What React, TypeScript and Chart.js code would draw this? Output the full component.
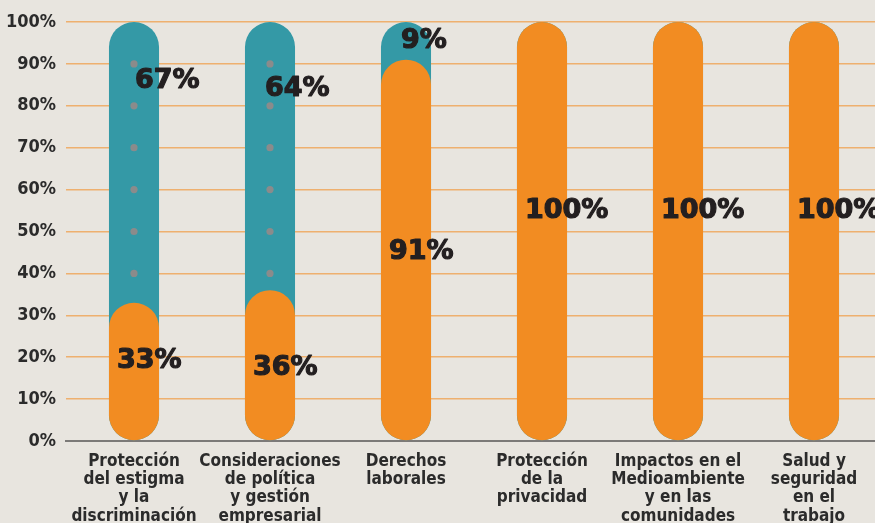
import { useEffect, useRef } from "react";
import { Chart, registerables } from "chart.js";

Chart.register(...registerables);

const categories: string[][] = [
  ["Protección", "del estigma", "y la", "discriminación"],
  ["Consideraciones", "de política", "y gestión", "empresarial"],
  ["Derechos", "laborales"],
  ["Protección", "de la", "privacidad"],
  ["Impactos en el", "Medioambiente", "y en las", "comunidades"],
  ["Salud y", "seguridad", "en el", "trabajo"],
];
const orangeValues = [33, 36, 91, 100, 100, 100];
const tealValues = [67, 64, 9, 0, 0, 0];
const yTickValues = [0, 10, 20, 30, 40, 50, 60, 70, 80, 90, 100];
const dotLevels = [10, 20, 30, 40, 50, 60, 70, 80, 90];

const W = 890;
const H = 540;
const BG = "#e8e5df";
const TEAL = "#3499a6";
const ORANGE = "#f28c22";

// label placement (styling, in axis units / pixels)
const orangeLabelLevel = [19, 17.5, 45, 55, 55, 55];
const tealLabelLevel = [86, 84, 95.5, 0, 0, 0];
const tealLabelDx = [1, -5, -5, 0, 0, 0];

const bgPlugin = {
  id: "bg",
  beforeDraw(chart: any) {
    const { ctx } = chart;
    ctx.save();
    ctx.fillStyle = BG;
    ctx.fillRect(0, 0, chart.width, chart.height);
    ctx.restore();
  },
};

const labelPlugin = {
  id: "pillLabels",
  afterDatasetsDraw(chart: any) {
    const { ctx } = chart;
    const y = chart.scales.y;
    const orangeMeta = chart.getDatasetMeta(chart.data.datasets.length - 1);
    ctx.save();
    ctx.font = "bold 27px 'DejaVu Sans'";
    ctx.fillStyle = "#231f20";
    ctx.strokeStyle = "#231f20";
    ctx.lineWidth = 1.2;
    ctx.lineJoin = "round";
    ctx.textAlign = "left";
    ctx.textBaseline = "middle";
    const draw = (t: string, x: number, yy: number) => {
      ctx.strokeText(t, x, yy);
      ctx.fillText(t, x, yy);
    };
    orangeValues.forEach((v, i) => {
      const bar = orangeMeta.data[i];
      draw(v + "%", bar.x - 17, y.getPixelForValue(orangeLabelLevel[i]));
    });
    tealValues.forEach((v, i) => {
      if (v <= 0) return;
      const bar = orangeMeta.data[i];
      draw(v + "%", bar.x + tealLabelDx[i], y.getPixelForValue(tealLabelLevel[i]));
    });
    ctx.restore();
  },
};

export default function App() {
  const ref = useRef<HTMLCanvasElement>(null);
  useEffect(() => {
    if (!ref.current) return;
    const totals = orangeValues.map((v, i) => v + tealValues[i]);
    const barCommon = {
      grouped: false,
      barPercentage: 1,
      categoryPercentage: 0.368,
      borderRadius: 25,
      borderSkipped: false as const,
      borderWidth: 0,
    };
    const dotSets = dotLevels.map((lvl) => ({
      type: "line" as const,
      data: categories.map(() => lvl),
      showLine: false,
      pointRadius: 3.6,
      pointBorderWidth: 0,
      pointBackgroundColor: "#8b8b8b",
      order: 2,
    }));
    const chart = new Chart(ref.current, {
      type: "bar",
      data: {
        labels: categories as any,
        datasets: [
          { type: "bar", data: totals, backgroundColor: TEAL, order: 3, ...barCommon } as any,
          ...dotSets,
          { type: "bar", data: orangeValues, backgroundColor: ORANGE, order: 1, ...barCommon } as any,
        ],
      },
      options: {
        responsive: false,
        animation: false,
        layout: { padding: { top: 22, right: 8, left: 0, bottom: 0 } },
        plugins: { legend: { display: false }, tooltip: { enabled: false } },
        scales: {
          x: {
            grid: { display: false },
            border: { display: true, color: "#7c7a78", width: 2 },
            ticks: {
              autoSkip: false,
              maxRotation: 0,
              padding: 3,
              color: "#2b2b2b",
              font: { family: "'Liberation Sans Narrow', 'DejaVu Sans Condensed', sans-serif", size: 17, weight: "bold", lineHeight: 1.08 },
            },
            afterFit(scale: any) {
              scale.height = H - 441;
            },
          },
          y: {
            min: 0,
            max: 100,
            afterBuildTicks(scale: any) {
              scale.ticks = yTickValues.map((v) => ({ value: v }));
            },
            grid: {
              drawTicks: false,
              color: (c: any) => (c.tick && c.tick.value === 0 ? "rgba(0,0,0,0)" : "#eeb06f"),
              lineWidth: 1.5,
            },
            border: { display: false },
            ticks: {
              padding: 10,
              color: "#2b2b2b",
              callback: (v: any) => v + "%",
              font: { family: "'Liberation Sans Narrow', 'DejaVu Sans Condensed', sans-serif", size: 18, weight: "bold" },
            },
            afterFit(scale: any) {
              scale.width = 66;
            },
          },
        },
      },
      plugins: [bgPlugin, labelPlugin],
    });
    return () => chart.destroy();
  }, []);
  return (
    <div style={{ position: "absolute", left: 0, top: 0, width: W, height: H, background: BG }}>
      <canvas ref={ref} width={W} height={H} style={{ display: "block", width: W, height: H }} />
    </div>
  );
}
